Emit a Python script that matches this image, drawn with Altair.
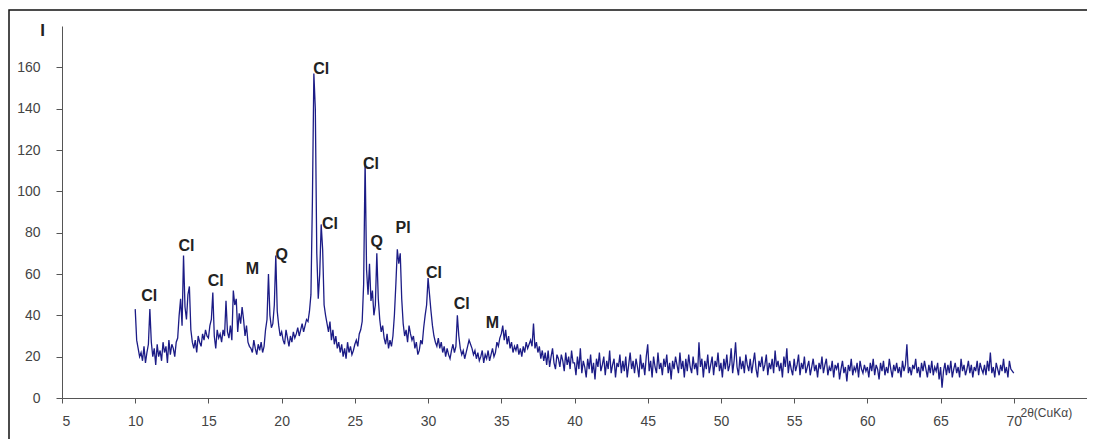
import altair as alt
import pandas as pd

# Measured intensity, 2θ from 10.0° to 70.0° in 0.1° steps (one row per degree)
intensity = (
    [43, 28, 24, 20, 22, 18, 25, 17, 22, 26]      # 10
    + [43, 27, 20, 24, 16, 26, 20, 23, 18, 27]   # 11
    + [22, 25, 17, 28, 21, 26, 24, 20, 27, 29]   # 12
    + [40, 48, 35, 69, 44, 38, 50, 54, 33, 27]   # 13
    + [24, 28, 22, 30, 27, 25, 31, 28, 33, 30]   # 14
    + [29, 35, 38, 51, 30, 24, 33, 29, 31, 27]   # 15
    + [33, 30, 47, 32, 29, 35, 28, 52, 45, 48]   # 16
    + [32, 41, 36, 44, 38, 30, 35, 27, 25, 24]   # 17
    + [22, 28, 24, 21, 26, 23, 27, 22, 25, 33]   # 18
    + [38, 60, 40, 34, 36, 45, 69, 42, 35, 30]   # 19
    + [32, 28, 26, 33, 29, 25, 30, 27, 32, 29]   # 20
    + [31, 34, 30, 33, 36, 32, 35, 38, 37, 42]   # 21
    + [50, 95, 157, 140, 70, 48, 60, 84, 72, 45] # 22
    + [40, 36, 32, 37, 28, 33, 26, 30, 24, 27]   # 23
    + [22, 26, 20, 24, 19, 27, 22, 25, 21, 23]   # 24
    + [26, 28, 25, 31, 33, 37, 55, 115, 62, 50]  # 25
    + [65, 47, 52, 40, 45, 70, 48, 38, 32, 35]   # 26
    + [29, 26, 31, 24, 28, 25, 30, 40, 55, 72]   # 27
    + [65, 70, 48, 36, 30, 33, 27, 35, 31, 28]   # 28
    + [30, 24, 27, 21, 23, 28, 26, 34, 40, 45]   # 29
    + [58, 50, 42, 35, 30, 27, 25, 29, 24, 27]   # 30
    + [22, 25, 20, 24, 21, 19, 23, 26, 22, 25]   # 31
    + [40, 30, 24, 21, 23, 19, 22, 25, 28, 26]   # 32
    + [24, 21, 23, 19, 22, 18, 20, 23, 17, 21]   # 33
    + [19, 23, 18, 21, 24, 20, 22, 27, 25, 29]   # 34
    + [31, 35, 28, 33, 26, 30, 24, 27, 22, 25]   # 35
    + [23, 26, 21, 24, 20, 25, 22, 27, 24, 26]   # 36
    + [28, 25, 36, 24, 27, 22, 25, 19, 23, 18]   # 37
    + [22, 16, 23, 15, 20, 24, 17, 14, 21, 19]   # 38
    + [15, 21, 18, 13, 22, 16, 20, 14, 23, 17]   # 39
    + [17, 11, 20, 14, 24, 12, 18, 15, 10, 19]   # 40
    + [14, 21, 12, 17, 9, 19, 15, 22, 13, 16]    # 41
    + [20, 11, 18, 14, 23, 12, 16, 19, 10, 17]   # 42
    + [15, 21, 12, 18, 13, 20, 10, 16, 22, 14]   # 43
    + [18, 12, 19, 15, 10, 21, 14, 17, 11, 20]   # 44
    + [26, 13, 18, 10, 20, 15, 12, 22, 14, 17]   # 45
    + [11, 19, 15, 21, 12, 17, 9, 18, 14, 20]    # 46
    + [16, 12, 22, 14, 18, 10, 19, 13, 21, 15]   # 47
    + [12, 20, 14, 17, 11, 27, 15, 19, 10, 18]   # 48
    + [14, 21, 12, 16, 20, 11, 18, 15, 22, 13]   # 49
    + [17, 10, 19, 14, 21, 13, 16, 24, 12, 18]   # 50
    + [27, 15, 11, 20, 14, 18, 12, 21, 16, 13]   # 51
    + [19, 12, 17, 22, 14, 10, 18, 15, 20, 13]   # 52
    + [16, 21, 11, 17, 14, 19, 12, 23, 15, 18]   # 53
    + [13, 17, 10, 20, 15, 24, 12, 18, 14, 11]   # 54
    + [19, 13, 16, 21, 11, 17, 14, 20, 12, 15]   # 55
    + [18, 11, 15, 19, 13, 16, 10, 17, 14, 20]   # 56
    + [12, 16, 19, 11, 15, 13, 18, 10, 16, 14]   # 57
    + [17, 9, 14, 18, 12, 15, 8, 16, 13, 19]     # 58
    + [11, 15, 13, 17, 10, 18, 14, 12, 16, 13]   # 59
    + [15, 10, 17, 13, 19, 11, 16, 14, 9, 17]    # 60
    + [13, 18, 11, 15, 12, 19, 14, 10, 16, 13]   # 61
    + [17, 12, 15, 10, 18, 13, 16, 26, 12, 15]   # 62
    + [11, 16, 14, 19, 12, 15, 10, 17, 13, 18]   # 63
    + [14, 10, 16, 12, 18, 11, 15, 13, 17, 9]    # 64
    + [15, 5, 13, 17, 11, 16, 12, 18, 10, 14]    # 65
    + [17, 12, 15, 10, 19, 13, 16, 11, 14, 18]   # 66
    + [12, 16, 10, 15, 13, 18, 11, 17, 14, 12]   # 67
    + [16, 11, 18, 13, 22, 12, 15, 10, 17, 14]   # 68
    + [11, 16, 13, 19, 12, 15, 10, 18, 14, 13]   # 69
    + [12]                                        # 70.0
)
two_theta = [round(10 + 0.1 * i, 1) for i in range(len(intensity))]

# Phase labels
label_text = ["Cl", "Cl", "Cl", "M", "Q", "Cl", "Cl", "Cl", "Q", "Pl", "Cl", "Cl", "M"]
label_x = [10.95, 13.5, 15.5, 18.0, 20.0, 22.7, 23.3, 26.1, 26.5, 28.3, 30.4, 32.3, 34.4]
label_y = [47, 71, 54, 60, 67, 157, 82, 111, 73, 80, 58, 43, 34]

x_ticks = [5, 10, 15, 20, 25, 30, 35, 40, 45, 50, 55, 60, 65, 70]
y_ticks = [0, 20, 40, 60, 80, 100, 120, 140, 160]

df = pd.DataFrame({"two_theta": two_theta, "I": intensity})
lab = pd.DataFrame({"x": label_x, "y": label_y, "t": label_text})

xscale = alt.Scale(domain=[5, 75], nice=False, zero=False)
yscale = alt.Scale(domain=[0, 180], nice=False)

line = alt.Chart(df).mark_line(color="#1c1c86", strokeWidth=1.3).encode(
    x=alt.X(
        "two_theta:Q",
        scale=xscale,
        axis=alt.Axis(
            values=x_ticks,
            grid=False,
            tickSize=5,
            labelPadding=11,
            labelFontSize=14,
            labelColor="#444444",
            labelFont="Liberation Sans",
            domainColor="#555555",
            tickColor="#555555",
            title="2θ(CuKα)",
            titleFontSize=12,
            titleFontWeight="normal",
            titleColor="#444444",
            titleFont="Liberation Sans",
            titleAnchor="start",
            titleAlign="left",
            titleBaseline="alphabetic",
            titleX=958,
            titleY=18,
        ),
    ),
    y=alt.Y(
        "I:Q",
        scale=yscale,
        axis=alt.Axis(
            values=y_ticks,
            grid=False,
            tickSize=6,
            labelPadding=16,
            labelFontSize=14,
            labelColor="#444444",
            labelFont="Liberation Sans",
            domainColor="#555555",
            tickColor="#555555",
            title="I",
            titleAngle=0,
            titleFontSize=17,
            titleFontWeight="bold",
            titleColor="#222222",
            titleFont="Liberation Sans",
            titleAlign="center",
            titleBaseline="alphabetic",
            titleX=-20,
            titleY=9,
        ),
    ),
)

labels = alt.Chart(lab).mark_text(
    font="Liberation Sans",
    fontSize=16,
    fontWeight="bold",
    color="#222222",
    align="center",
    baseline="alphabetic",
).encode(
    x=alt.X("x:Q", scale=xscale),
    y=alt.Y("y:Q", scale=yscale),
    text="t:N",
)

frame = alt.Chart(pd.DataFrame({"k": [0]})).mark_rect(
    fill=None, stroke="#111111", strokeWidth=1.5, clip=False
).encode(
    x=alt.value(-53), x2=alt.value(1030), y=alt.value(-16), y2=alt.value(415)
)

chart = (
    alt.layer(line, labels, frame)
    .properties(
        width=1025,
        height=372,
        autosize=alt.AutoSizeParams(type="none"),
        padding={"left": 54, "top": 18, "right": 0, "bottom": 41},
        background="white",
    )
    .configure_view(stroke=None)
)

chart.save("out.html", embed_options={"renderer": "svg", "actions": False})
